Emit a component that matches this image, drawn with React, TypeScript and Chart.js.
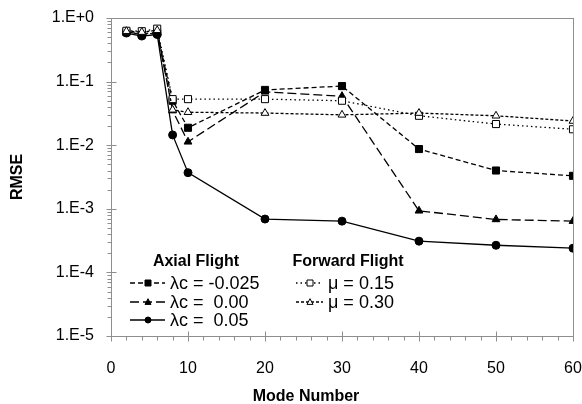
import React, { useEffect, useRef } from "react";
import { Chart, registerables } from "chart.js";

Chart.register(...registerables);

const modeNumbers = [2, 4, 6, 8, 10, 20, 30, 40, 50, 60];
const axialNeg025 = [0.6, 0.55, 0.58, 0.05, 0.0188, 0.074, 0.085, 0.0087, 0.004, 0.0033];
const axial000 = [0.6, 0.56, 0.6, 0.035, 0.0113, 0.069, 0.059, 0.00093, 0.00068, 0.00064];
const axial005 = [0.58, 0.52, 0.55, 0.0145, 0.0037, 0.00069, 0.00064, 0.00031, 0.000267, 0.00024];
const forward015 = [0.63, 0.62, 0.68, 0.053, 0.053, 0.053, 0.05, 0.029, 0.0215, 0.0178];
const forward030 = [0.62, 0.6, 0.64, 0.036, 0.033, 0.032, 0.03, 0.032, 0.029, 0.024];

const seriesLabels = ["λc = -0.025", "λc =  0.00", "λc =  0.05", "μ = 0.15", "μ = 0.30"];
const legendGroupTitles = ["Axial Flight", "Forward Flight"];
const yTickValues = [1e-5, 1e-4, 1e-3, 1e-2, 1e-1, 1];
const xTitle = "Mode Number";
const yTitle = "RMSE";

const FONT = "'Liberation Sans', Arial, Helvetica, sans-serif";
const AXIS = "#8e8e8e";

type Style = { shape: string; fill: boolean; dash: number[]; r: number };
const styles: Style[] = [
  { shape: "square", fill: true, dash: [5, 3], r: 5 },
  { shape: "triangle", fill: true, dash: [9, 4], r: 4.5 },
  { shape: "circle", fill: true, dash: [], r: 4 },
  { shape: "square", fill: false, dash: [1.5, 3], r: 5 },
  { shape: "triangle", fill: false, dash: [3, 2], r: 4.5 },
];
const seriesData = [axialNeg025, axial000, axial005, forward015, forward030];

function drawMarker(ctx: CanvasRenderingContext2D, shape: string, fill: boolean, x: number, y: number, s: number) {
  ctx.save();
  ctx.setLineDash([]);
  ctx.beginPath();
  if (shape === "square") {
    ctx.rect(x - s, y - s, 2 * s, 2 * s);
  } else if (shape === "triangle") {
    ctx.moveTo(x, y - s * 1.1);
    ctx.lineTo(x + s, y + s * 0.8);
    ctx.lineTo(x - s, y + s * 0.8);
    ctx.closePath();
  } else {
    ctx.arc(x, y, s, 0, Math.PI * 2);
  }
  ctx.fillStyle = fill ? "#000" : "#fff";
  ctx.fill();
  ctx.strokeStyle = "#000";
  ctx.lineWidth = 1;
  ctx.stroke();
  ctx.restore();
}

const framePlugin = {
  id: "frame",
  beforeDatasetsDraw(chart: any) {
    const ctx: CanvasRenderingContext2D = chart.ctx;
    const ca = chart.chartArea;
    const xs = chart.scales.x;
    const ys = chart.scales.y;
    ctx.save();
    ctx.strokeStyle = AXIS;
    ctx.lineWidth = 1;
    const L = Math.round(ca.left) + 0.5;
    const R = Math.round(ca.right) + 0.5;
    const T = Math.round(ca.top) + 0.5;
    const B = Math.round(ca.bottom) + 0.5;
    ctx.strokeRect(L, T, R - L, B - T);
    ctx.beginPath();
    for (let v = 0; v <= 60; v += 2) {
      const px = Math.round(xs.getPixelForValue(v)) + 0.5;
      if (v % 10 === 0) {
        ctx.moveTo(px, B - 5);
        ctx.lineTo(px, B + 5);
      } else {
        ctx.moveTo(px, B);
        ctx.lineTo(px, B + 4);
      }
    }
    for (let d = -5; d <= 0; d++) {
      const py = Math.round(ys.getPixelForValue(Math.pow(10, d))) + 0.5;
      ctx.moveTo(L - 5, py);
      ctx.lineTo(L + 5, py);
      if (d < 0) {
        for (let m = 2; m <= 9; m++) {
          const pm = Math.round(ys.getPixelForValue(m * Math.pow(10, d))) + 0.5;
          ctx.moveTo(L - 4, pm);
          ctx.lineTo(L, pm);
        }
      }
    }
    ctx.stroke();
    ctx.restore();
  },
  afterDraw(chart: any) {
    const ctx: CanvasRenderingContext2D = chart.ctx;
    ctx.save();
    ctx.fillStyle = "#000";
    ctx.font = `bold 16px ${FONT}`;
    ctx.textAlign = "center";
    ctx.textBaseline = "middle";
    ctx.fillText(xTitle, 306, 397);
    ctx.save();
    ctx.translate(18, 177);
    ctx.rotate(-Math.PI / 2);
    ctx.fillText(yTitle, 0, 0);
    ctx.restore();
    ctx.fillText(legendGroupTitles[0], 196, 262);
    ctx.fillText(legendGroupTitles[1], 348, 262);
    const groups = [
      { idx: [0, 1, 2], x0: 130, x1: 165, mx: 148, tx: 170 },
      { idx: [3, 4], x0: 296, x1: 323, mx: 310, tx: 328 },
    ];
    const rows = [283, 302, 320];
    ctx.font = `18px ${FONT}`;
    ctx.textAlign = "left";
    for (const g of groups) {
      g.idx.forEach((si, k) => {
        const st = styles[si];
        const y = rows[k];
        ctx.save();
        ctx.strokeStyle = "#000";
        ctx.lineWidth = 1.3;
        ctx.setLineDash(st.dash);
        ctx.beginPath();
        ctx.moveTo(g.x0, y);
        ctx.lineTo(g.x1, y);
        ctx.stroke();
        ctx.restore();
        drawMarker(ctx, st.shape, st.fill, g.mx, y, 3);
        ctx.fillStyle = "#000";
        ctx.fillText(seriesLabels[si], g.tx, y + 1);
      });
    }
    ctx.restore();
  },
};

export default function App() {
  const ref = useRef<HTMLCanvasElement | null>(null);
  useEffect(() => {
    if (!ref.current) return;
    const pointStyleMap: Record<string, string> = { square: "rect", triangle: "triangle", circle: "circle" };
    const chart = new Chart(ref.current, {
      type: "line",
      data: {
        datasets: seriesData.map((vals, i) => ({
          label: seriesLabels[i],
          data: modeNumbers.map((x, j) => ({ x, y: vals[j] })),
          borderColor: "#000",
          borderWidth: 1.3,
          borderDash: styles[i].dash,
          pointStyle: pointStyleMap[styles[i].shape],
          pointRadius: styles[i].r,
          pointBackgroundColor: styles[i].fill ? "#000" : "#fff",
          pointBorderColor: "#000",
          pointBorderWidth: 1,
          fill: false,
          tension: 0,
          order: 5 - i,
        })),
      },
      options: {
        responsive: false,
        animation: false,
        devicePixelRatio: 1,
        layout: { padding: { left: 0, right: 9, top: 18, bottom: 0 } },
        plugins: { legend: { display: false }, tooltip: { enabled: false } },
        scales: {
          x: {
            type: "linear",
            min: 0,
            max: 60,
            grid: { display: false, drawTicks: false },
            border: { display: false },
            ticks: {
              stepSize: 10,
              color: "#000",
              font: { family: FONT, size: 16 },
              padding: 23,
              maxRotation: 0,
            },
            afterFit: (s: any) => {
              s.height = 68;
              s.paddingLeft = 0;
              s.paddingRight = 0;
            },
          },
          y: {
            type: "logarithmic",
            min: 1e-5,
            max: 1,
            grid: { display: false, drawTicks: false },
            border: { display: false },
            afterBuildTicks: (s: any) => {
              s.ticks = yTickValues.map((v) => ({ value: v }));
            },
            ticks: {
              color: "#000",
              font: { family: FONT, size: 16 },
              padding: 17,
              callback: (v: any) => {
                const e = Math.round(Math.log10(Number(v)));
                return e >= 0 ? `1.E+${e}` : `1.E${e}`;
              },
            },
            afterFit: (s: any) => {
              s.width = 111;
              s.paddingTop = 0;
              s.paddingBottom = 0;
            },
          },
        },
      },
      plugins: [framePlugin],
    } as any);
    return () => chart.destroy();
  }, []);
  return (
    <div style={{ position: "fixed", left: 0, top: 0, width: 582, height: 404, background: "#fff" }}>
      <canvas ref={ref} width={582} height={404} style={{ display: "block" }} />
    </div>
  );
}
